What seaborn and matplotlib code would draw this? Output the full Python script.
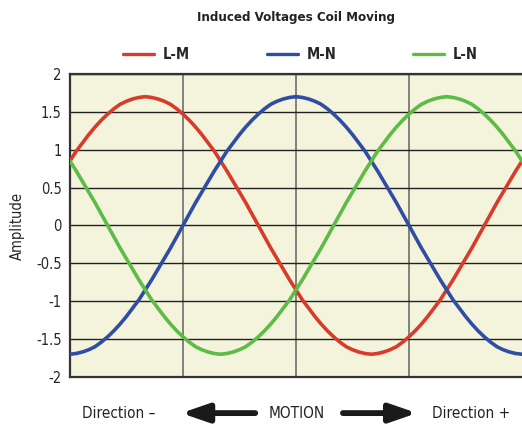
import pandas as pd
import matplotlib.pyplot as plt
import seaborn as sns

# angle in degrees (one full cycle) and the three line voltages
angle = list(range(0, 361, 5))
l_m = [0.85, 0.98, 1.09, 1.20, 1.30, 1.39, 1.47, 1.54, 1.60, 1.64, 1.67, 1.69, 1.70,
       1.69, 1.67, 1.64, 1.60, 1.54, 1.47, 1.39, 1.30, 1.20, 1.09, 0.98, 0.85, 0.72, 0.58, 0.44, 0.30, 0.15, 0.00,
       -0.15, -0.30, -0.44, -0.58, -0.72, -0.85, -0.98, -1.09, -1.20, -1.30, -1.39, -1.47, -1.54, -1.60, -1.64, -1.67, -1.69, -1.70,
       -1.69, -1.67, -1.64, -1.60, -1.54, -1.47, -1.39, -1.30, -1.20, -1.09, -0.98, -0.85, -0.72, -0.58, -0.44, -0.30, -0.15, 0.00,
       0.15, 0.30, 0.44, 0.58, 0.72, 0.85]
m_n = [-1.70, -1.69, -1.67, -1.64, -1.60, -1.54, -1.47, -1.39, -1.30, -1.20, -1.09, -0.98, -0.85, -0.72, -0.58, -0.44, -0.30, -0.15, 0.00,
       0.15, 0.30, 0.44, 0.58, 0.72, 0.85, 0.98, 1.09, 1.20, 1.30, 1.39, 1.47, 1.54, 1.60, 1.64, 1.67, 1.69, 1.70,
       1.69, 1.67, 1.64, 1.60, 1.54, 1.47, 1.39, 1.30, 1.20, 1.09, 0.98, 0.85, 0.72, 0.58, 0.44, 0.30, 0.15, 0.00,
       -0.15, -0.30, -0.44, -0.58, -0.72, -0.85, -0.98, -1.09, -1.20, -1.30, -1.39, -1.47, -1.54, -1.60, -1.64, -1.67, -1.69, -1.70]
l_n = [0.85, 0.72, 0.58, 0.44, 0.30, 0.15, 0.00,
       -0.15, -0.30, -0.44, -0.58, -0.72, -0.85, -0.98, -1.09, -1.20, -1.30, -1.39, -1.47, -1.54, -1.60, -1.64, -1.67, -1.69, -1.70,
       -1.69, -1.67, -1.64, -1.60, -1.54, -1.47, -1.39, -1.30, -1.20, -1.09, -0.98, -0.85, -0.72, -0.58, -0.44, -0.30, -0.15, 0.00,
       0.15, 0.30, 0.44, 0.58, 0.72, 0.85, 0.98, 1.09, 1.20, 1.30, 1.39, 1.47, 1.54, 1.60, 1.64, 1.67, 1.69, 1.70,
       1.69, 1.67, 1.64, 1.60, 1.54, 1.47, 1.39, 1.30, 1.20, 1.09, 0.98, 0.85]
series = ["L-M", "M-N", "L-N"]
y_ticks = [-2, -1.5, -1, -0.5, 0, 0.5, 1, 1.5, 2]
y_labels = ["-2", "-1.5", "-1", "-0.5", "0", "0.5", "1", "1.5", "2"]

df = pd.DataFrame({
    "angle": angle * 3,
    "value": l_m + m_n + l_n,
    "serie": [series[0]] * len(angle) + [series[1]] * len(angle) + [series[2]] * len(angle),
})

sns.set_style("white")
plt.rcParams["font.family"] = ["DejaVu Sans"]
plt.rcParams["font.stretch"] = "condensed"

fig = plt.figure(figsize=(5.22, 4.25), dpi=100)
ax = fig.add_axes([0.134, 0.113, 0.866, 0.713])
ax.set_facecolor("#f4f4dd")

palette = {"L-M": "#d93b2b", "M-N": "#2e4da3", "L-N": "#5dbb46"}
sns.lineplot(data=df, x="angle", y="value", hue="serie", palette=palette,
             linewidth=2.6, ax=ax, zorder=3)

ax.set_xlim(0, 360)
ax.set_ylim(-2, 2)
ax.set_xticks([90, 180, 270])
ax.set_xticklabels([])
ax.set_yticks(y_ticks)
ax.set_yticklabels(y_labels, fontsize=10.5)
ax.tick_params(length=0, pad=6)
ax.grid(axis="y", color="#222222", linewidth=1)
ax.grid(axis="x", color="#6e6e6a", linewidth=1.2)
for side in ["left", "bottom", "top"]:
    ax.spines[side].set_color("#333333")
    ax.spines[side].set_linewidth(1.6)
ax.spines["right"].set_visible(False)
ax.set_xlabel("")
ax.set_ylabel("Amplitude", fontsize=10.5, labelpad=8)

ax.set_title("Induced Voltages Coil Moving", fontsize=9.5, fontweight="bold",
             color="#222222", pad=38)
leg = ax.legend(loc="center", bbox_to_anchor=(0.51, 1.063), ncol=3, frameon=False,
                columnspacing=5.3, handlelength=2.1, handletextpad=0.6,
                prop={"weight": "bold", "size": 10.5, "stretch": "condensed"})
for line in leg.get_lines():
    line.set_linewidth(2.4)

# motion annotation under the chart
fig.text(0.157, 0.028, "Direction \u2013", fontsize=11, color="#222222", va="center")
fig.text(0.569, 0.028, "MOTION", fontsize=11, color="#222222", va="center", ha="center")
fig.text(0.828, 0.028, "Direction +", fontsize=11, color="#222222", va="center")
arrow = dict(arrowstyle="-|>,head_length=1.6,head_width=0.55", color="#1a1a1a",
             linewidth=4.2, shrinkA=0, shrinkB=0)
ax.annotate("", xy=(0.347, 0.028), xytext=(0.489, 0.028), xycoords="figure fraction",
            textcoords="figure fraction", arrowprops=arrow, annotation_clip=False)
ax.annotate("", xy=(0.799, 0.028), xytext=(0.657, 0.028), xycoords="figure fraction",
            textcoords="figure fraction", arrowprops=arrow, annotation_clip=False)

fig.savefig("out.png", dpi=100)
